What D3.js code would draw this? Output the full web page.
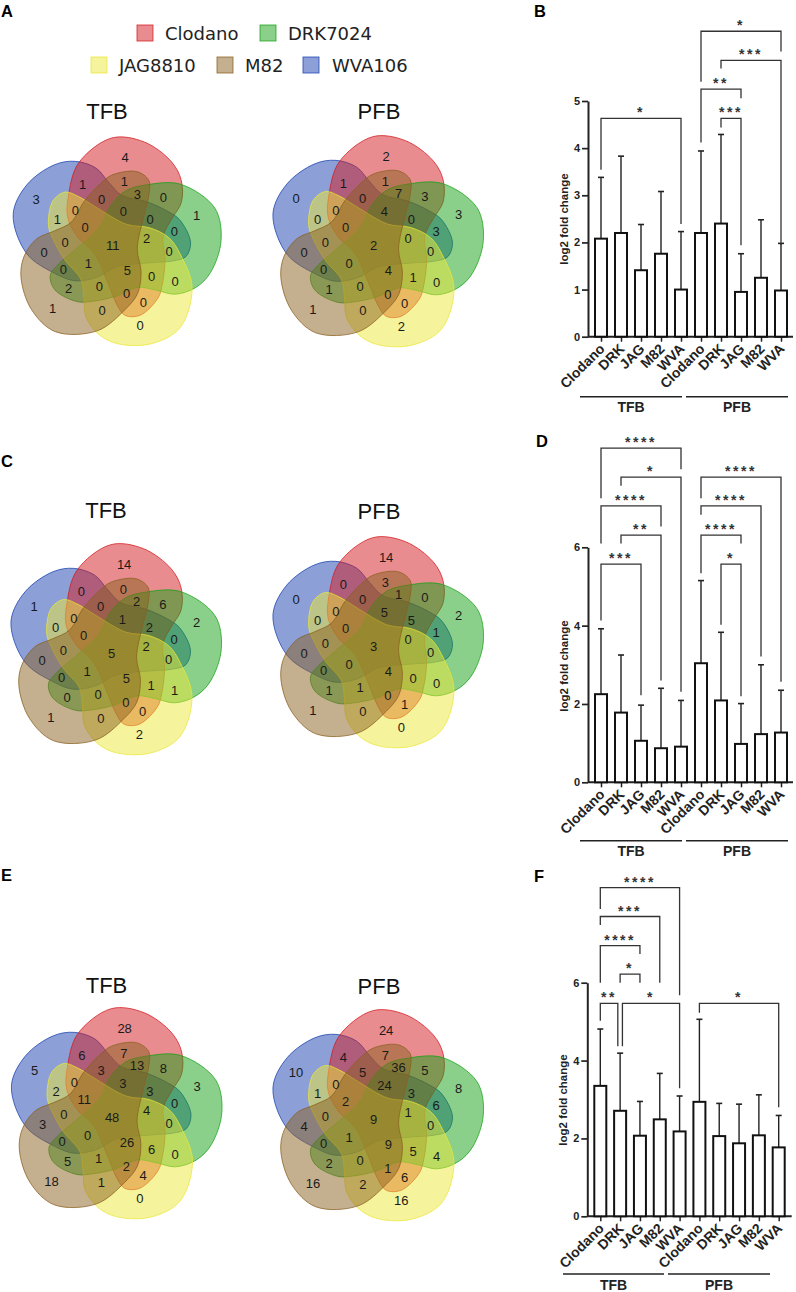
<!DOCTYPE html>
<html><head><meta charset="utf-8">
<script src="https://cdn.jsdelivr.net/npm/d3@7"></script>
<style>
html,body{margin:0;padding:0;background:#fff}
svg{display:block}
text{font-family:"Liberation Sans",Arial,sans-serif}
</style></head><body>
<svg id="c" width="796" height="1292"></svg>
<script>
// ---------- data ----------
const strains = ["Clodano","DRK7024","JAG8810","M82","WVA106"];
const strainColors = ["#d3191f","#15a115","#ebe737","#895f1f","#1941af"];
const shortLabels = ["Clodano","DRK","JAG","M82","WVA","Clodano","DRK","JAG","M82","WVA"];

// Venn counts, one value per region, in the order of regionAnchors
const vennA_TFB = [4,1,0,1,3,1,1,3,0,0,0,0,0,0,2,11,0,0,5,0,0,0,0,2,1,0,0,0,0,1,0];
const vennA_PFB = [2,3,2,1,0,1,1,7,3,0,4,0,3,0,0,2,0,1,4,0,0,0,0,1,0,0,0,0,0,0,0];
const vennC_TFB = [14,2,2,1,1,0,0,2,6,0,1,2,0,0,2,5,1,1,5,0,0,0,0,0,1,0,0,0,0,0,0];
const vennC_PFB = [14,2,0,1,0,0,3,1,0,0,5,5,1,0,0,3,0,0,4,0,1,0,1,1,0,0,0,0,0,0,0];
const vennE_TFB = [28,3,0,18,5,6,7,13,8,3,3,3,0,0,4,48,0,6,26,2,4,1,1,5,0,0,3,0,11,2,0];
const vennE_PFB = [24,8,16,16,10,4,7,36,5,5,24,3,6,0,1,9,4,5,9,1,6,2,0,2,1,0,4,0,2,1,0];

// Bar charts: mean and upper error
const barB = [2.08,2.2,1.41,1.76,1.0,2.2,2.4,0.95,1.25,0.98];
const errB = [3.38,3.83,2.38,3.08,2.23,3.94,4.29,1.76,2.48,1.98];
const barD = [2.25,1.78,1.06,0.87,0.91,3.04,2.09,0.98,1.23,1.27];
const errD = [3.92,3.25,1.97,2.4,2.09,5.15,3.83,2.01,3.0,2.35];
const barF = [3.35,2.71,2.07,2.49,2.18,2.94,2.06,1.875,2.08,1.77];
const errF = [4.81,4.19,2.95,3.67,3.09,5.06,2.9,2.88,3.12,2.59];

// Significance: from, to, top, left end, right end (all in axis units), stars
const sigB = [
 [0,4,4.63,3.54,2.39,"*"],[5,7,5.25,4.12,5.06,"**"],[6,7,4.63,4.44,1.94,"***"],
 [5,9,6.48,5.41,6.05,"*"],[6,9,5.86,5.69,1.94,"***"]];
const sigD = [
 [0,4,8.53,7.25,7.99,"****"],[1,4,7.79,7.57,2.31,"*"],[0,3,7.06,6.1,6.53,"****"],
 [1,3,6.31,6.1,2.6,"**"],[0,2,5.57,4.13,2.22,"***"],[5,9,7.79,7.25,2.57,"****"],
 [5,8,7.06,6.83,3.21,"****"],[5,7,6.31,5.34,6.1,"****"],[6,7,5.57,4.02,2.2,"*"]];
const sigF = [
 [0,4,8.44,7.89,5.68,"****"],[0,3,7.7,7.48,6.0,"***"],[0,2,6.95,6.0,6.74,"****"],
 [1,2,6.22,6.0,6.0,"*"],[0,1,5.47,5.02,4.37,"**",0,-2.3],[1,4,5.47,4.37,3.29,"*",2.3,0],[5,9,5.47,5.23,2.8,"*"]];

// ---------- Venn geometry (local units: 3 per px) ----------
const petal = [[-140,-142],[-110,-242],[-10,-318],[88,-306],[170,-246],[199,-190],[199,-125],[170,-75],[145,-25],[150,50],[142,120],[129,162],[75,214],[30,214],[5,180],[-20,120],[-63,27],[-112,-21],[-142,-80]];
const regionAnchors = [[375,473],[590,645],[420,975],[158,925],[108,597],[248,552],[373,545],[412,582],[490,592],[305,598],[370,635],[450,658],[523,695],[507,755],[440,716],[338,737],[525,845],[455,830],[382,810],[380,880],[430,908],[306,930],[298,858],[206,865],[265,790],[190,808],[132,758],[195,727],[255,682],[172,658],[226,632]].map(d=>[d[0]-345,d[1]-732]);
const layerOrder = [4,0,1,2,3];

const svg = d3.select("#c");
const ink = "#222";

function venn(cx,cy,k,title,titleY,values){
  const sx=d3.scaleLinear().domain([0,3]).range([cx,cx+k]);
  const sy=d3.scaleLinear().domain([0,3]).range([cy,cy+k]);
  const g=svg.append("g");
  const line=d3.line().x(d=>sx(d[0])).y(d=>sy(d[1])).curve(d3.curveCatmullRomClosed.alpha(0.5));
  layerOrder.forEach(i=>{
    const col=strainColors[i];
    const a=i*72*Math.PI/180,c=Math.cos(a),s=Math.sin(a);
    const pts=petal.map(p=>[p[0]*c-p[1]*s,p[0]*s+p[1]*c]);
    g.append("path").attr("d",line(pts)).attr("fill",col).attr("fill-opacity",0.5)
      .attr("stroke",col).attr("stroke-opacity",0.75).attr("stroke-width",1);
  });
  g.selectAll("text.n").data(values).join("text").attr("class","n")
    .attr("x",(d,i)=>sx(regionAnchors[i][0])).attr("y",(d,i)=>sy(regionAnchors[i][1]))
    .attr("dy","0.36em").attr("text-anchor","middle").attr("font-size",13).attr("fill","#1a1a1a").text(d=>d);
  svg.append("text").attr("x",cx-8+ (title==="PFB"?11:0)).attr("y",titleY).attr("text-anchor","middle")
    .attr("font-size",22).attr("fill","#111").text(title);
}
venn(115,244,1.0,"TFB",119,vennA_TFB);
venn(376,244,1.012,"PFB",119,vennA_PFB);
venn(114,652,1.012,"TFB",518,vennC_TFB);
venn(376,645,1.012,"PFB",519,vennC_PFB);
venn(114.5,1116,1.012,"TFB",993,vennE_TFB);
venn(376,1118,1.012,"PFB",994,vennE_PFB);

// ---------- legend ----------
const legendLayout=[[137,25,165],[260,25,288],[91,57,119],[217,57,245],[303,57,332]];
strains.forEach((s,i)=>{
  const [sx,sy,tx]=legendLayout[i];
  svg.append("rect").attr("x",sx).attr("y",sy).attr("width",16).attr("height",16)
    .attr("fill",strainColors[i]).attr("fill-opacity",0.5).attr("stroke",strainColors[i]).attr("stroke-opacity",0.75);
  svg.append("text").attr("x",tx).attr("y",sy+15).attr("font-size",18)
    .style("font-family","'DejaVu Sans'").attr("fill","#222").text(s);
});

// ---------- panel letters ----------
[["A",1,17],["B",534,17],["C",1,467],["D",536,447],["E",1,881],["F",534,882]].forEach(d=>{
  svg.append("text").attr("x",d[1]).attr("y",d[2]).attr("font-size",16.5).attr("font-weight",700).attr("fill","#000").text(d[0]);
});

// ---------- bar charts ----------
function bars(o){
  const g=svg.append("g");
  const x=d3.scalePoint().domain(d3.range(10)).range([o.x0,o.x1]);
  const y=d3.scaleLinear().domain([0,o.max]).range([o.y0,o.yTop]);
  // y axis
  const ay=g.append("g").attr("transform",`translate(${o.axisX},0)`)
    .call(d3.axisLeft(y).tickValues(o.ticks).tickFormat(d3.format("d")).tickSize(6).tickSizeOuter(0).tickPadding(2));
  ay.select(".domain").attr("stroke",ink).attr("stroke-width",2);
  ay.selectAll(".tick line").attr("stroke",ink).attr("stroke-width",1.7);
  ay.selectAll("text").attr("font-size",11).attr("font-weight",700).attr("fill",ink)
    .style("font-family","'Liberation Sans'");
  g.append("text").attr("transform",`translate(${o.labelX},${o.labelY}) rotate(-90)`)
    .attr("text-anchor","middle").attr("font-size",11.5).attr("font-weight",700).attr("fill",ink).text("log2 fold change");
  // x axis
  const ax=g.append("g").attr("transform",`translate(0,${o.y0})`)
    .call(d3.axisBottom(x).tickFormat(i=>shortLabels[i]).tickSize(5).tickSizeOuter(0));
  ax.select(".domain").attr("d",`M${o.axisX},0H${o.axisEnd}`).attr("stroke",ink).attr("stroke-width",2);
  ax.selectAll(".tick line").attr("stroke",ink).attr("stroke-width",1.5);
  ax.selectAll("text").attr("font-size",14).attr("font-weight",700).attr("fill",ink)
    .style("font-family","'Liberation Sans'")
    .attr("text-anchor","end").attr("dy",0).attr("y",0)
    .attr("transform","translate(4,13) rotate(-45)");
  // error bars
  const w=o.barW;
  o.bars.forEach((v,i)=>{
    const cx=x(i);
    g.append("line").attr("x1",cx).attr("x2",cx).attr("y1",y(v)).attr("y2",y(o.errs[i])).attr("stroke",ink).attr("stroke-width",1.4);
    g.append("line").attr("x1",cx-3).attr("x2",cx+3).attr("y1",y(o.errs[i])).attr("y2",y(o.errs[i])).attr("stroke",ink).attr("stroke-width",1.6);
    g.append("rect").attr("x",cx-w/2).attr("y",y(v)).attr("width",w).attr("height",y(0)-y(v))
      .attr("fill","#fff").attr("stroke","#111").attr("stroke-width",2);
  });
  // brackets
  o.sig.forEach(s=>{
    const [a,b,top,l,r,st,dl=0,dr=0]=s;
    const xa=x(a)+dl,xb=x(b)+dr;
    g.append("path").attr("d",`M${xa},${y(l)}V${y(top)}H${xb}V${y(r)}`).attr("fill","none").attr("stroke","#333").attr("stroke-width",1.3);
    g.append("text").attr("x",(xa+xb)/2).attr("y",y(top)-1).attr("text-anchor","middle")
      .attr("font-size",14).attr("font-weight",700).attr("letter-spacing",2.5).attr("fill","#333").text(st);
  });
  // group lines
  o.groups.forEach(gr=>{
    g.append("line").attr("x1",gr[1]).attr("x2",gr[2]).attr("y1",o.lineY).attr("y2",o.lineY).attr("stroke",ink).attr("stroke-width",1.5);
    g.append("text").attr("x",(gr[1]+gr[2])/2).attr("y",o.lineY+15.5).attr("text-anchor","middle")
      .attr("font-size",14).attr("font-weight",700).attr("fill",ink).text(gr[0]);
  });
}
bars({bars:barB,errs:errB,sig:sigB,x0:601,x1:781,y0:336.7,yTop:101,max:5,ticks:[0,1,2,3,4,5],axisX:588,axisEnd:793,barW:12,labelX:568,labelY:219,lineY:396.7,groups:[["TFB",580,682],["PFB",686,788]]});
bars({bars:barD,errs:errD,sig:sigD,x0:601,x1:781,y0:782.3,yTop:547.3,max:6,ticks:[0,2,4,6],axisX:588,axisEnd:793,barW:12,labelX:568,labelY:666,lineY:840.7,groups:[["TFB",580,682],["PFB",686,788]]});
bars({bars:barF,errs:errF,sig:sigF,x0:600.3,x1:778.7,y0:1216.3,yTop:982.7,max:6,ticks:[0,2,4,6],axisX:587.3,axisEnd:791.7,barW:12,labelX:567,labelY:1100,lineY:1274,groups:[["TFB",563,664],["PFB",668,770]]});
</script>
</body></html>
